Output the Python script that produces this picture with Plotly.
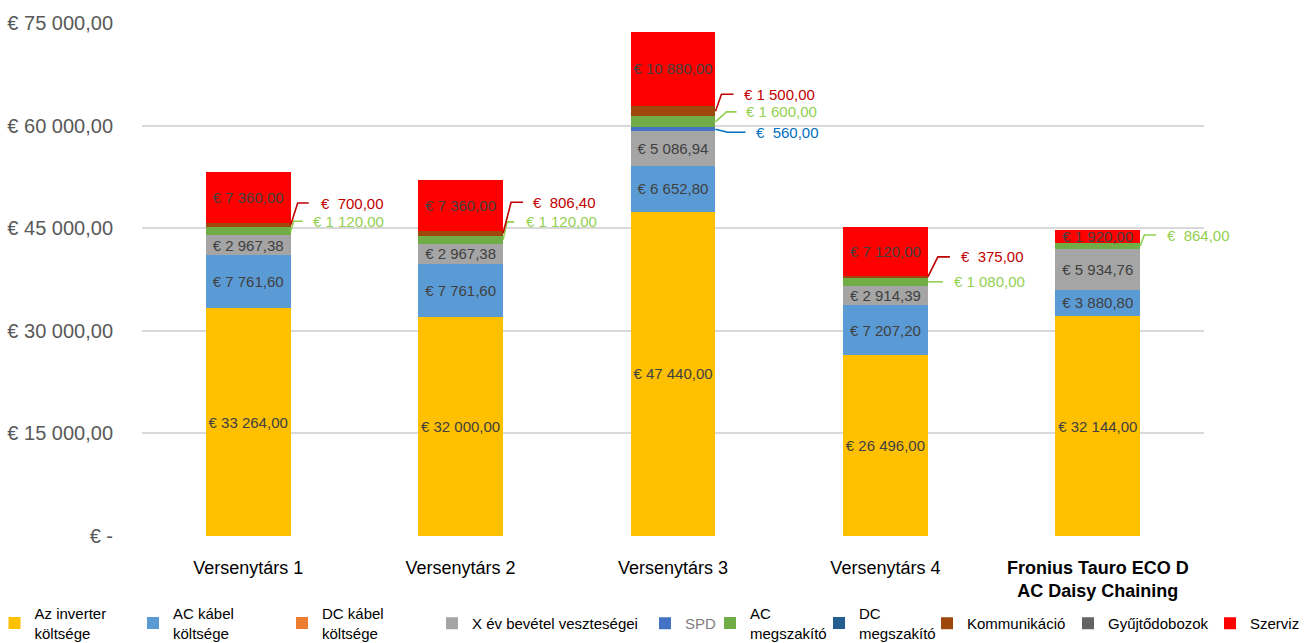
import plotly.graph_objects as go

# ---------------- data ----------------
categories = ["Versenytárs 1", "Versenytárs 2", "Versenytárs 3", "Versenytárs 4",
              "Fronius Tauro ECO D AC Daisy Chaining"]
category_labels = ["Versenytárs 1", "Versenytárs 2", "Versenytárs 3", "Versenytárs 4",
                   "<b>Fronius Tauro ECO D<br>AC Daisy Chaining</b>"]

inverter = [33264.00, 32000.00, 47440.00, 26496.00, 32144.00]
ac_kabel = [7761.60, 7761.60, 6652.80, 7207.20, 3880.80]
dc_kabel = [0, 0, 0, 0, 0]
x_ev = [2967.38, 2967.38, 5086.94, 2914.39, 5934.76]
spd = [0, 0, 560.00, 0, 0]
ac_megszakito = [1120.00, 1120.00, 1600.00, 1080.00, 864.00]
dc_megszakito = [0, 0, 0, 0, 0]
kommunikacio = [700.00, 806.40, 1500.00, 375.00, 0]
gyujtodobozok = [0, 0, 0, 0, 0]
szerviz = [7360.00, 7360.00, 10880.00, 7120.00, 1920.00]

y_tickvals = [0, 15000, 30000, 45000, 60000, 75000]
y_ticktext = ["€ -", "€ 15 000,00", "€ 30 000,00", "€ 45 000,00", "€ 60 000,00", "€ 75 000,00"]

# ---------------- styles ----------------
NB = "\u00a0"
FONT = "Liberation Sans, Arial, sans-serif"

series = [
    # key, legend name, values, color, label mode
    ("inv", "Az inverter<br>költsége", inverter, "#FFC000", "inside"),
    ("ack", "AC kábel<br>költsége", ac_kabel, "#5B9BD5", "inside"),
    ("dck", "DC kábel<br>költsége", dc_kabel, "#ED7D31", None),
    ("xev", "X év bevétel veszteségei", x_ev, "#A5A5A5", "inside"),
    ("spd", "<span style='color:#7F7F7F'>SPD</span>", spd, "#4472C4", "callout"),
    ("acm", "AC<br>megszakító", ac_megszakito, "#70AD47", "callout"),
    ("dcm", "DC<br>megszakító", dc_megszakito, "#255E91", None),
    ("komm", "Kommunikáció", kommunikacio, "#9E480E", "callout"),
    ("gyu", "Gyűjtődobozok", gyujtodobozok, "#636363", None),
    ("szer", "Szerviz", szerviz, "#FF0000", "inside"),
]

# legend entry placement: left pixel of each legend box, top pixel
legend_left_px = [-5.5, 133, 282, 432, 645, 710, 819, 927, 1068, 1210]
legend_top_px = [597, 597, 597, 607, 607, 597, 597, 607, 607, 607]

callout_color = {"spd": "#0070C0", "acm": "#92D050", "komm": "#C00000"}
# (label dy px (screen, +down), text right dx, elbow dx, end dx) relative to bar right edge / segment middle
callout_layout = {
    ("komm", 0): (-22, 95, 7, 18),
    ("acm", 0): (-10, 95, 3, 12),
    ("komm", 1): (-31, 95, 8, 20),
    ("acm", 1): (-18, 96, 4, 11),
    ("komm", 2): (-17, 102, 6, 18),
    ("acm", 2): (-10, 104, 11, 21),
    ("spd", 2): (3, 106, 12, 30),
    ("komm", 3): (-20, 98, 10, 22),
    ("acm", 3): (0, 99, 0, 15),
    ("acm", 4): (-11, 92, 4, 16),
}

W, H = 1307, 643
M_L, M_R, M_T, M_B = 142, 5, 23, 107
PLOT_W = 1062                       # width of the bar area in px
PAPER_W = W - M_L - M_R
DOM = PLOT_W / PAPER_W
PLOT_H = H - M_T - M_B
Y_MAX = 75000
XPP = 5.0 / PLOT_W
YPP = Y_MAX / PLOT_H
BAR_W = 0.4


def fmt(v, pad=False):
    s = f"{v:,.2f}".replace(",", "#").replace(".", ",").replace("#", NB)
    if pad and v < 1000:
        s = NB + s
    return "€" + NB + s


def to_paper_x(xd):
    return DOM * (xd + 0.5) / 5.0


xs = list(range(len(categories)))
fig = go.Figure()

legend_layouts = {}
for n, (key, name, vals, color, mode) in enumerate(series):
    lname = "legend" if n == 0 else f"legend{n + 1}"
    texts = [fmt(v) if (mode == "inside" and v > 0) else "" for v in vals]
    fig.add_trace(go.Bar(
        x=xs, y=vals, name=name, width=BAR_W,
        marker=dict(color=color, line=dict(width=0)),
        text=texts, textposition="inside", insidetextanchor="middle",
        textangle=0, constraintext="none",
        textfont=dict(color="#404040", size=15, family=FONT),
        hoverinfo="skip", legend=lname,
    ))
    legend_layouts[lname] = dict(
        orientation="h",
        x=(legend_left_px[n] - M_L) / PAPER_W, xanchor="left",
        y=-(legend_top_px[n] - (M_T + PLOT_H)) / PLOT_H, yanchor="top",
        font=dict(size=15, family=FONT, color="#000000"),
        bgcolor="rgba(0,0,0,0)", itemwidth=30,
    )

# callouts
cum = [0.0] * len(categories)
for key, name, vals, color, mode in series:
    for i, v in enumerate(vals):
        if mode == "callout" and v > 0 and (key, i) in callout_layout:
            dy, tdx, edx, ndx = callout_layout[(key, i)]
            mid = cum[i] + v / 2
            edge = i + BAR_W / 2
            ly = mid - dy * YPP
            c = callout_color[key]
            fig.add_trace(go.Scatter(
                x=[edge, edge + edx * XPP, edge + ndx * XPP],
                y=[mid, ly, ly], mode="lines",
                line=dict(color=c, width=1.6), showlegend=False, hoverinfo="skip",
            ))
            fig.add_annotation(
                xref="paper", yref="y",
                x=to_paper_x(edge + tdx * XPP), y=ly, text=fmt(v, pad=True), showarrow=False,
                xanchor="right", yanchor="middle",
                font=dict(color=c, size=15, family=FONT),
            )
        cum[i] += v

fig.update_layout(
    width=W, height=H,
    barmode="stack",
    margin=dict(l=M_L, r=M_R, t=M_T, b=M_B, autoexpand=False),
    plot_bgcolor="white", paper_bgcolor="white",
    font=dict(family=FONT, color="#000000"),
    showlegend=True,
    xaxis=dict(
        domain=[0, DOM],
        range=[-0.5, 4.5], tickmode="array", tickvals=xs, ticktext=category_labels,
        showgrid=False, zeroline=False, showline=False,
        tickfont=dict(size=18, family=FONT, color="#000000"),
        ticklabelstandoff=19,
    ),
    yaxis=dict(
        range=[0, Y_MAX], tickmode="array", tickvals=y_tickvals, ticktext=y_ticktext,
        showgrid=True, gridcolor="#D9D9D9", gridwidth=1.5, zeroline=False, showline=False,
        tickfont=dict(size=20, family=FONT, color="#595959"),
        ticklabelstandoff=28,
    ),
    **legend_layouts,
)

fig.write_html("out.html")
